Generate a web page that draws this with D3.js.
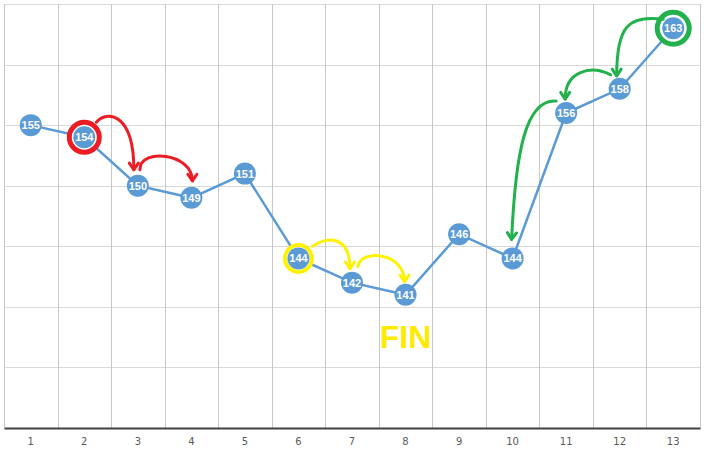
<!DOCTYPE html>
<html>
<head>
<meta charset="utf-8">
<script src="https://cdn.jsdelivr.net/npm/d3@7"></script>
<style>
  body { margin: 0; background: #fff; }
  svg { display: block; font-family: "Liberation Sans", Arial, sans-serif; }
</style>
</head>
<body>
<div id="chart"></div>
<script>
// Data
const categories = ["1", "2", "3", "4", "5", "6", "7", "8", "9", "10", "11", "12", "13"];
const values = [155, 154, 150, 149, 151, 144, 142, 141, 146, 144, 156, 158, 163];
const yTicks = [130, 135, 140, 145, 150, 155, 160, 165];

// highlighted points (index into values) and their ring colours
const rings = [
  { i: 1, color: "#ec1c24", r: 15, w: 5 },
  { i: 5, color: "#fff200", r: 13.5, w: 4 },
  { i: 12, color: "#22b14c", r: 16, w: 5 },
];

// hand drawn arrows: from point index -> to point index
// s / e: offsets of start and end from the two points, c1 / c2: control offsets
const arrows = [
  { from: 1, to: 2, color: "#ec1c24", s: [12, -15], e: [-4, -16], c1: [10, -12], c2: [0, -58] },
  { from: 2, to: 3, color: "#ec1c24", s: [2, -16], e: [1, -17], c1: [0, -22], c2: [0, -28] },
  { from: 5, to: 6, color: "#fff200", s: [14, -12], e: [-2, -14], c1: [14, -10], c2: [0, -34] },
  { from: 6, to: 7, color: "#fff200", s: [6, -16], e: [-1, -13], c1: [2, -18], c2: [0, -30] },
  { from: 12, to: 11, color: "#22b14c", s: [-10, -9], e: [-3, -13], c1: [-35, -4], c2: [0, -50] },
  { from: 11, to: 10, color: "#22b14c", s: [-9, -14], e: [-1, -14], c1: [-20, -10], c2: [0, -28] },
  { from: 10, to: 9, color: "#22b14c", s: [-10, -12], e: [-1, -19], c1: [-30, -2], c2: [4, -90] },
];

const width = 704, height = 452;
const margin = { top: 4, right: 4, bottom: 24, left: 4 };

const svg = d3.select("#chart").append("svg")
  .attr("width", width)
  .attr("height", height);

const x = d3.scaleBand()
  .domain(categories)
  .range([margin.left, width - margin.right]);

const y = d3.scaleLinear()
  .domain([130, 165])
  .range([height - margin.bottom, margin.top]);

// gridlines
svg.append("g")
  .selectAll("line")
  .data(yTicks)
  .join("line")
  .attr("x1", margin.left)
  .attr("x2", width - margin.right)
  .attr("y1", (d) => Math.round(y(d)) + 0.5)
  .attr("y2", (d) => Math.round(y(d)) + 0.5)
  .attr("stroke", "#d9d9d9");

const vLines = categories.map((c) => x(c)).concat([x(categories[categories.length - 1]) + x.bandwidth()]);
svg.append("g")
  .selectAll("line")
  .data(vLines)
  .join("line")
  .attr("x1", (d) => Math.round(d) + 0.5)
  .attr("x2", (d) => Math.round(d) + 0.5)
  .attr("y1", margin.top)
  .attr("y2", height - margin.bottom)
  .attr("stroke", "#c8c8c8");

// x axis
const xAxis = svg.append("g")
  .attr("transform", `translate(0,${height - margin.bottom})`)
  .call(d3.axisBottom(x).tickSize(0).tickPadding(10));
xAxis.select(".domain").attr("stroke", "#404040").attr("stroke-width", 2.2);
xAxis.selectAll("text")
  .attr("fill", "#595959")
  .style("font-family", "'DejaVu Sans', sans-serif")
  .style("font-size", "10px");

const px = (i) => x(categories[i]) + x.bandwidth() / 2;
const py = (i) => y(values[i]);

// the series line
const line = d3.line()
  .x((d, i) => px(i))
  .y((d) => y(d));

svg.append("path")
  .datum(values)
  .attr("d", line)
  .attr("fill", "none")
  .attr("stroke", "#5b9bd5")
  .attr("stroke-width", 2.5);

// highlight rings
svg.append("g")
  .selectAll("circle")
  .data(rings)
  .join("circle")
  .attr("cx", (d) => px(d.i))
  .attr("cy", (d) => py(d.i))
  .attr("r", (d) => d.r)
  .attr("fill", "#fff")
  .attr("stroke", (d) => d.color)
  .attr("stroke-width", (d) => d.w);

// markers
const pts = svg.append("g")
  .selectAll("g")
  .data(values)
  .join("g")
  .attr("transform", (d, i) => `translate(${px(i)},${y(d)})`);

pts.append("circle")
  .attr("r", 11)
  .attr("fill", "#5b9bd5");

pts.append("text")
  .attr("text-anchor", "middle")
  .attr("dy", "0.36em")
  .attr("fill", "#fff")
  .style("font-size", "11px")
  .style("font-weight", "bold")
  .text((d) => d);

// arrows: cubic curve from one point to the next, with an open head
const ag = svg.append("g");
arrows.forEach((a) => {
  const sx = px(a.from) + a.s[0], sy = py(a.from) + a.s[1];
  const ex = px(a.to) + a.e[0], ey = py(a.to) + a.e[1];
  const c1x = sx + a.c1[0], c1y = sy + a.c1[1];
  const c2x = ex + a.c2[0], c2y = ey + a.c2[1];
  const path = d3.path();
  path.moveTo(sx, sy);
  path.bezierCurveTo(c1x, c1y, c2x, c2y, ex, ey);

  // head direction from last control point
  const dx = ex - c2x, dy = ey - c2y, len = Math.hypot(dx, dy);
  const ux = dx / len, uy = dy / len;
  const hl = 8, ang = 0.6;
  const cos = Math.cos(ang), sin = Math.sin(ang);
  const l = [ex - hl * (ux * cos - uy * sin), ey - hl * (uy * cos + ux * sin)];
  const r = [ex - hl * (ux * cos + uy * sin), ey - hl * (uy * cos - ux * sin)];

  ag.append("path").attr("d", path.toString())
    .attr("fill", "none").attr("stroke", a.color).attr("stroke-width", 3)
    .attr("stroke-linecap", "round");
  ag.append("path").attr("d", `M${l[0]},${l[1]} L${ex},${ey} L${r[0]},${r[1]}`)
    .attr("fill", "none").attr("stroke", a.color).attr("stroke-width", 3)
    .attr("stroke-linecap", "round").attr("stroke-linejoin", "round");
});

// FIN label
svg.append("text")
  .attr("x", px(7))
  .attr("y", y(136.6))
  .attr("text-anchor", "middle")
  .attr("fill", "#ffea00")
  .style("font-size", "32px")
  .style("font-weight", "bold")
  .text("FIN");
</script>
</body>
</html>
